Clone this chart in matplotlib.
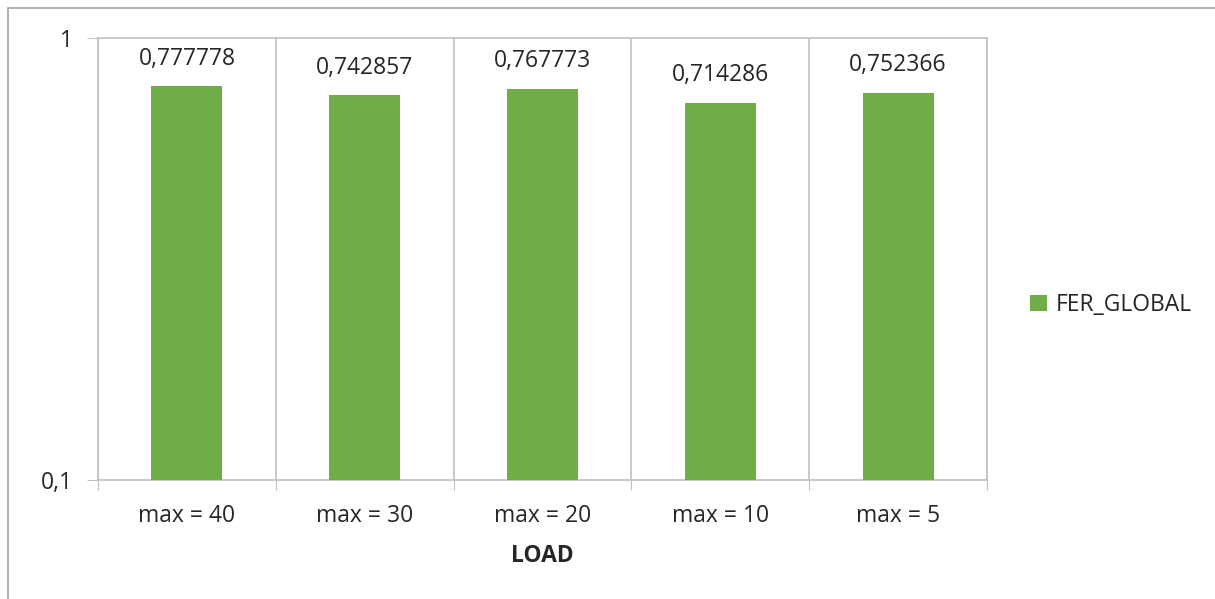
import matplotlib
matplotlib.use("Agg")
import matplotlib.pyplot as plt
from matplotlib.patches import Rectangle

# data
categories = ["max = 40", "max = 30", "max = 20", "max = 10", "max = 5"]
fer_global = [0.777778, 0.742857, 0.767773, 0.714286, 0.752366]
value_labels = ["0,777778", "0,742857", "0,767773", "0,714286", "0,752366"]
y_ticks = [0.1, 1]
y_tick_labels = ["0,1", "1"]

GREEN = "#70AD47"
GRID = "#C0C0C0"
TEXT = "#262626"
FS = 16.5

plt.rcParams['font.family'] = ['Open Sans', 'DejaVu Sans']

fig = plt.figure(figsize=(12.15, 5.99), dpi=100)
ax = fig.add_axes([98 / 1215, 1 - 480 / 599, (987 - 98) / 1215, (480 - 38) / 599])

# outer chart border (right/bottom edges fall outside the picture)
fig.patches.append(Rectangle((8 / 1215, -0.1), 1.2, 1 - 8 / 599 + 0.1,
                             transform=fig.transFigure, fill=False,
                             edgecolor="#A6A6A6", linewidth=1.2))

x = list(range(len(categories)))
bars = ax.bar(x, fer_global, width=0.4, color=GREEN, label="FER_GLOBAL", zorder=3)
ax.bar_label(bars, labels=value_labels, padding=11, fontsize=FS, color=TEXT)

ax.set_yscale("log")
ax.set_ylim(0.1, 1)
ax.set_yticks(y_ticks)
ax.set_yticklabels(y_tick_labels, fontsize=FS, color=TEXT)
ax.yaxis.set_minor_locator(matplotlib.ticker.NullLocator())
ax.tick_params(axis="y", length=8, color=GRID, pad=10)

ax.set_xlim(-0.5, len(categories) - 0.5)
ax.set_xticks([i - 0.5 for i in range(len(categories) + 1)])
ax.set_xticklabels([])
ax.set_xticks(x, minor=True)
ax.set_xticklabels(categories, minor=True, fontsize=FS, color=TEXT)
ax.tick_params(axis="x", which="major", length=7, color=GRID)
ax.tick_params(axis="x", which="minor", length=0, pad=17)
ax.grid(axis="x", which="major", color=GRID, linewidth=1.2, zorder=0)

for side in ["top", "bottom", "left", "right"]:
    ax.spines[side].set_color(GRID)
    ax.spines[side].set_linewidth(1.2)

ax.set_xlabel("LOAD", fontsize=FS, fontweight="bold", color=TEXT, labelpad=12)

fig.legend(handles=[bars], labels=["FER_GLOBAL"], loc="center left",
           bbox_to_anchor=(1009 / 1215, 1 - 305 / 599), frameon=False,
           fontsize=FS, handlelength=0.75, handleheight=0.75, handletextpad=0.4,
           labelcolor=TEXT)

fig.savefig("out.png", dpi=100)
